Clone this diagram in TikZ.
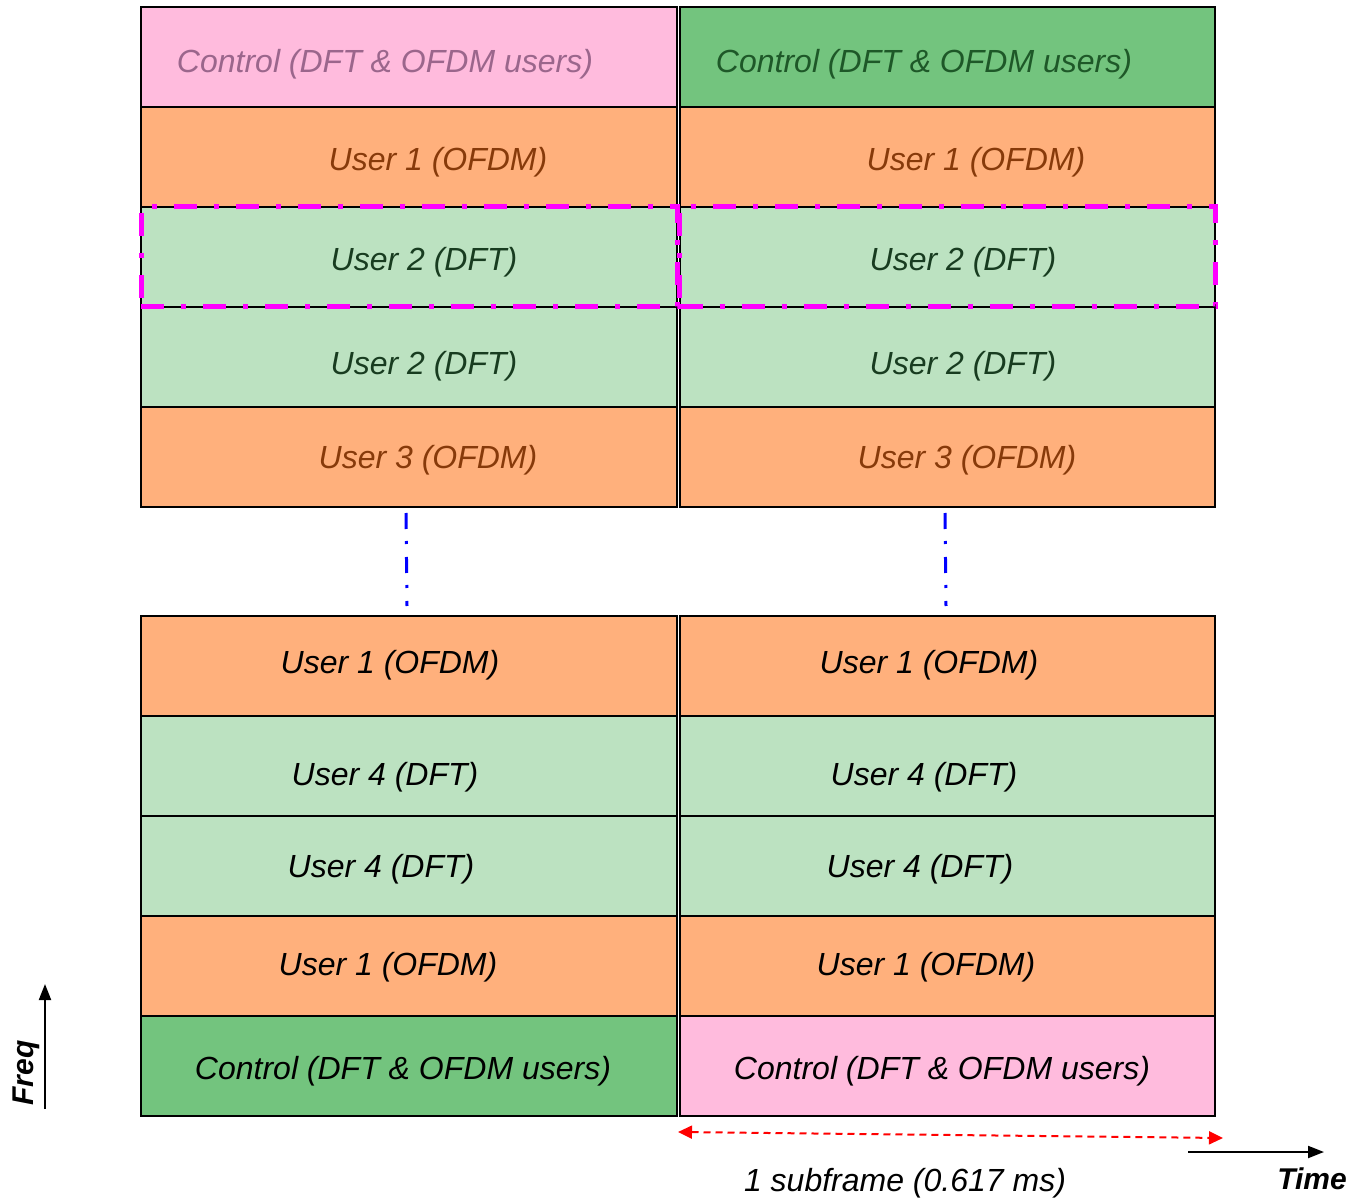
\documentclass[tikz,border=0pt]{standalone}
\usepackage{fontspec}
\setmainfont{Liberation Sans}
\usetikzlibrary{arrows.meta}
\definecolor{cpink}{RGB}{255,187,221}
\definecolor{cdgreen}{RGB}{115,196,126}
\definecolor{corange}{RGB}{255,176,124}
\definecolor{clgreen}{RGB}{188,226,193}
\definecolor{tpurple}{RGB}{155,102,140}
\definecolor{tdgreen}{RGB}{30,88,40}
\definecolor{tbrown}{RGB}{135,58,10}
\definecolor{tgreen}{RGB}{24,60,32}
\definecolor{cmag}{RGB}{255,0,255}
\definecolor{cblue}{RGB}{0,0,255}
\definecolor{cred}{RGB}{255,0,0}
\begin{document}
\begin{tikzpicture}[x=1pt,y=-1pt,
  cellL/.style={draw=black,line width=2pt,minimum width=536pt,minimum height=100pt,inner sep=0pt,outer sep=0pt},
  cellR/.style={draw=black,line width=2pt,minimum width=535pt,minimum height=100pt,inner sep=0pt,outer sep=0pt},
  lbl/.style={font=\fontsize{32}{36}\selectfont\itshape,inner sep=0pt},
  hl/.style={draw=cmag,line width=5pt,dash pattern=on 23pt off 17pt on 5pt off 17pt,minimum height=100pt,inner sep=0pt,outer sep=0pt},
  dots/.style={draw=cblue,line width=3pt,dash pattern=on 16pt off 12pt on 3pt off 13pt},
  axis/.style={line width=2pt,-{Triangle[length=16pt,width=12pt]}}]
\useasboundingbox (0,0) rectangle (1353,1198);
% top left column
\node[cellL,fill=cpink]   (a1) at (409,57) {};
\node[cellL,fill=corange] (a2) at (409,157) {};
\node[cellL,fill=clgreen] (a3) at (409,257) {};
\node[cellL,fill=clgreen] (a4) at (409,357) {};
\node[cellL,fill=corange] (a5) at (409,457) {};
% top right column
\node[cellR,fill=cdgreen] (b1) at (947.5,57) {};
\node[cellR,fill=corange] (b2) at (947.5,157) {};
\node[cellR,fill=clgreen] (b3) at (947.5,257) {};
\node[cellR,fill=clgreen] (b4) at (947.5,357) {};
\node[cellR,fill=corange] (b5) at (947.5,457) {};
% bottom left column
\node[cellL,fill=corange] (c1) at (409,666) {};
\node[cellL,fill=clgreen] (c2) at (409,766) {};
\node[cellL,fill=clgreen] (c3) at (409,866) {};
\node[cellL,fill=corange] (c4) at (409,966) {};
\node[cellL,fill=cdgreen] (c5) at (409,1066) {};
% bottom right column
\node[cellR,fill=corange] (d1) at (947.5,666) {};
\node[cellR,fill=clgreen] (d2) at (947.5,766) {};
\node[cellR,fill=clgreen] (d3) at (947.5,866) {};
\node[cellR,fill=corange] (d4) at (947.5,966) {};
\node[cellR,fill=cpink]   (d5) at (947.5,1066) {};
% labels top
\node[lbl,text=tpurple] (ta1) at (385,64) {Control (DFT \& OFDM users)};
\node[lbl,text=tbrown]  (ta2) at (438,162) {User 1 (OFDM)};
\node[lbl,text=tgreen]  (ta3) at (424,262) {User 2 (DFT)};
\node[lbl,text=tgreen]  (ta4) at (424,366) {User 2 (DFT)};
\node[lbl,text=tbrown]  (ta5) at (428,460) {User 3 (OFDM)};
\node[lbl,text=tdgreen] (tb1) at (924,64) {Control (DFT \& OFDM users)};
\node[lbl,text=tbrown]  (tb2) at (976,162) {User 1 (OFDM)};
\node[lbl,text=tgreen]  (tb3) at (963,262) {User 2 (DFT)};
\node[lbl,text=tgreen]  (tb4) at (963,366) {User 2 (DFT)};
\node[lbl,text=tbrown]  (tb5) at (967,460) {User 3 (OFDM)};
% labels bottom
\node[lbl] (tc1) at (390,665) {User 1 (OFDM)};
\node[lbl] (tc2) at (385,777) {User 4 (DFT)};
\node[lbl] (tc3) at (381,869) {User 4 (DFT)};
\node[lbl] (tc4) at (388,967) {User 1 (OFDM)};
\node[lbl] (tc5) at (403,1071) {Control (DFT \& OFDM users)};
\node[lbl] (td1) at (929,665) {User 1 (OFDM)};
\node[lbl] (td2) at (924,777) {User 4 (DFT)};
\node[lbl] (td3) at (920,869) {User 4 (DFT)};
\node[lbl] (td4) at (926,967) {User 1 (OFDM)};
\node[lbl] (td5) at (942,1071) {Control (DFT \& OFDM users)};
% highlight boxes
\node[hl,minimum width=536pt] (h1) at (409,257) {};
\node[hl,minimum width=536pt] (h2) at (947.5,257) {};
% vertical dotted continuation
\coordinate (p1) at (406,513);
\coordinate (p2) at (407,606);
\coordinate (q1) at (945,513);
\coordinate (q2) at (946,606);
\draw[dots] (p1) -- (p2);
\draw[dots] (q1) -- (q2);
% subframe arrow
\coordinate (s1) at (678,1132);
\coordinate (s2) at (1223,1138);
\draw[cred,line width=2pt,dash pattern=on 7pt off 5pt,{Triangle[length=14pt,width=13pt]}-{Triangle[length=14pt,width=13pt]}] (s1) -- (s2);
\node[lbl] (sub) at (905,1183) {1 subframe (0.617 ms)};
% axes
\coordinate (f1) at (45,1109);
\coordinate (f2) at (45,984);
\draw[axis] (f1) -- (f2);
\node[font=\fontsize{30}{33}\selectfont\bfseries\itshape,inner sep=0pt,rotate=90] (freq) at (26,1073) {Freq};
\coordinate (t1) at (1188,1152);
\coordinate (t2) at (1324,1152);
\draw[axis] (t1) -- (t2);
\node[font=\fontsize{30}{33}\selectfont\bfseries\itshape,inner sep=0pt] (time) at (1312,1179) {Time};
\end{tikzpicture}
\end{document}
